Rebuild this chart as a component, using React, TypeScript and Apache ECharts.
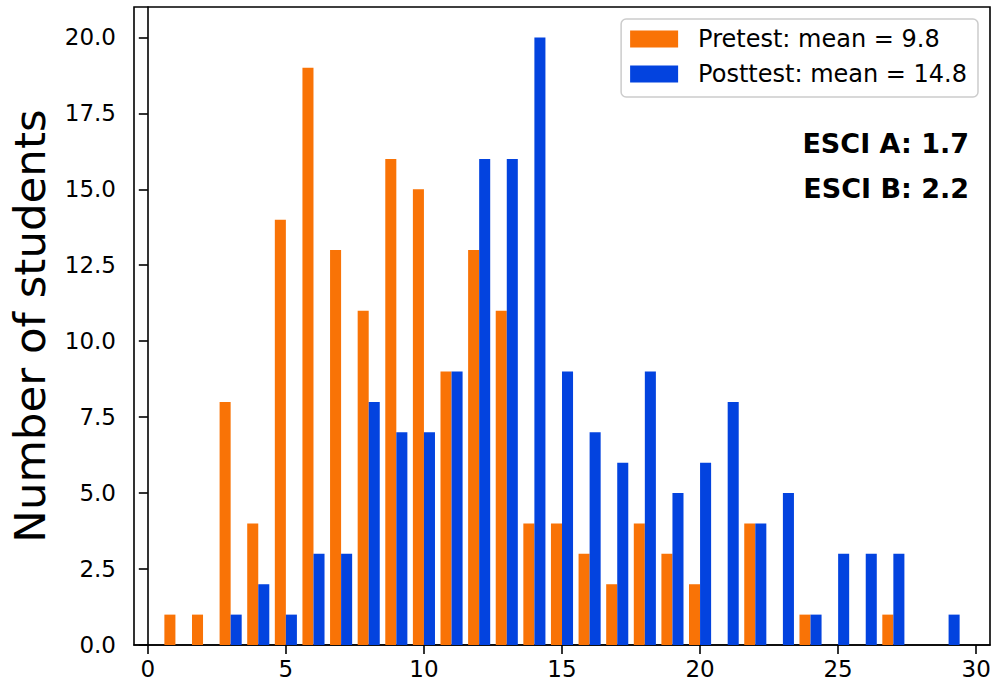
import React, { useEffect, useRef } from "react";
import * as echarts from "echarts";

const bins = [1, 2, 3, 4, 5, 6, 7, 8, 9, 10, 11, 12, 13, 14, 15, 16, 17, 18, 19, 20, 21, 22, 23, 24, 25, 26, 27, 28, 29];
const pretest = [1, 1, 8, 4, 14, 19, 13, 11, 16, 15, 9, 13, 11, 4, 4, 3, 2, 4, 3, 2, 0, 4, 0, 1, 0, 0, 1, 0, 0];
const posttest = [0, 0, 1, 2, 1, 3, 3, 8, 7, 7, 9, 16, 16, 20, 9, 7, 6, 9, 5, 6, 8, 4, 5, 1, 3, 3, 3, 0, 1];
const xTicks = [0, 5, 10, 15, 20, 25, 30];
const yTicks = [0, 2.5, 5, 7.5, 10, 12.5, 15, 17.5, 20];
const seriesNames = ["Pretest: mean = 9.8", "Posttest: mean = 14.8"];
const annotations = ["ESCI A: 1.7", "ESCI B: 2.2"];
const yLabel = "Number of students";

const FONT = "DejaVu Sans";
const ORANGE = "#f97306";
const BLUE = "#0343df";

function barSeries(name: string, values: number[], color: string, off0: number, off1: number) {
  return {
    type: "custom",
    name,
    itemStyle: { color },
    encode: { x: 0, y: 1 },
    data: bins.map((b, i) => [b, values[i]]),
    renderItem: (_params: any, api: any) => {
      const x = api.value(0);
      const y = api.value(1);
      if (!y) return null;
      const p0 = api.coord([x + off0, y]);
      const p1 = api.coord([x + off1, 0]);
      return {
        type: "rect",
        shape: { x: p0[0], y: p0[1], width: p1[0] - p0[0], height: p1[1] - p0[1] },
        style: { fill: color },
      };
    },
  };
}

export default function App() {
  const ref = useRef<HTMLDivElement>(null);
  useEffect(() => {
    if (!ref.current) return;
    const chart = echarts.init(ref.current, null, { renderer: "svg" });
    chart.setOption({
      animation: false,
      backgroundColor: "#ffffff",
      grid: {
        left: 133,
        right: 7,
        top: 7,
        bottom: 43,
        show: true,
        borderColor: "#000",
        borderWidth: 1.6,
        backgroundColor: "transparent",
      },
      legend: {
        orient: "vertical",
        right: 19,
        top: 19,
        icon: "rect",
        itemWidth: 48,
        itemHeight: 17,
        itemGap: 11,
        padding: [8, 11, 11, 9],
        backgroundColor: "rgba(255,255,255,0.8)",
        borderColor: "#cccccc",
        borderWidth: 1.5,
        borderRadius: 5,
        textStyle: { fontFamily: FONT, fontSize: 24, color: "#000", padding: [0, 0, 0, 15], lineHeight: 24 },
        data: seriesNames,
      },
      xAxis: {
        type: "value",
        min: -0.5,
        max: 30.5,
        splitLine: { show: false },
        axisLine: { show: true, lineStyle: { color: "#000", width: 1.6 } },
        axisTick: { show: true, length: 9, lineStyle: { color: "#000", width: 1.6 }, customValues: xTicks },
        axisLabel: { fontFamily: FONT, fontSize: 23, color: "#000", margin: 12, customValues: xTicks },
      },
      yAxis: {
        type: "value",
        min: 0,
        max: 21,
        name: yLabel,
        nameLocation: "middle",
        nameRotate: 90,
        nameGap: 82,
        nameTextStyle: { fontFamily: FONT, fontSize: 43.5, color: "#000" },
        splitLine: { show: false },
        axisLine: { show: true, lineStyle: { color: "#000", width: 1.6 } },
        axisTick: { show: true, length: 9, lineStyle: { color: "#000", width: 1.6 }, customValues: yTicks },
        axisLabel: {
          fontFamily: FONT,
          fontSize: 23,
          color: "#000",
          margin: 18,
          customValues: yTicks,
          formatter: (v: number) => v.toFixed(1),
        },
      },
      graphic: annotations.map((t, i) => ({
        type: "text",
        right: 28,
        top: 130 + i * 45,
        style: { text: t, fontFamily: FONT, fontSize: 27, fontWeight: "bold", fill: "#000" },
      })),
      series: [
        barSeries(seriesNames[0], pretest, ORANGE, -0.4, 0),
        barSeries(seriesNames[1], posttest, BLUE, 0, 0.4),
      ],
    });
    return () => chart.dispose();
  }, []);
  return <div ref={ref} style={{ width: 997, height: 688, position: "absolute", left: 0, top: 0 }} />;
}
